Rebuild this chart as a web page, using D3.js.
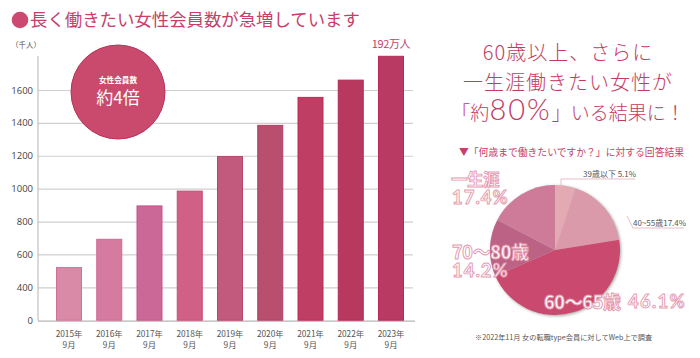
<!DOCTYPE html>
<html><head><meta charset="utf-8">
<script src="https://cdn.jsdelivr.net/npm/d3@7"></script>
<style>
html,body{margin:0;padding:0;background:#fff;}
svg{display:block;font-family:"Noto Sans CJK JP","Noto Sans",sans-serif;}
</style></head>
<body>
<svg id="c" width="700" height="358"></svg>
<script>
// ---- data ----
const years = ["2015年","2016年","2017年","2018年","2019年","2020年","2021年","2022年","2023年"];
const months = ["9月","9月","9月","9月","9月","9月","9月","9月","9月"];
const members = [520, 692, 895, 985, 1195, 1385, 1555, 1660, 1805];
const yTicks = [0, 400, 600, 800, 1000, 1200, 1400, 1600];
const pieLabels = ["39歳以下","40~55歳","60〜65歳","70〜80歳","一生涯"];
const pieValues = [5.1, 17.4, 46.1, 14.2, 17.4];

// ---- styles ----
const barColors = ["#d98aa7","#d67ba0","#cc6897","#d06086","#c15a7d","#b84f6f","#bf3e64","#b8395f","#b93a63"];
const barStroke = ["#d0709a","#cf6794","#c4548a","#c84a78","#b64470","#ae4064","#c0285a","#b82756","#b52a5a"];
const pieColors = ["#e3aab4","#da9aa9","#c94a6e","#bb6285","#cd7b98"];
const pink = "#c63e69";

const svg = d3.select("#c");
const defs = svg.append("defs");
const f = defs.append("filter").attr("id","sh").attr("x","-20%").attr("y","-20%").attr("width","140%").attr("height","140%");
f.append("feDropShadow").attr("dx",1).attr("dy",1).attr("stdDeviation",1.8).attr("flood-color","#555").attr("flood-opacity",0.55);

// ---- title ----
svg.append("circle").attr("cx",20).attr("cy",20).attr("r",8.3).attr("fill","#cc4a72");
svg.append("text").attr("x",30).attr("y",26.3).attr("font-size",17.4).attr("fill",pink)
  .text("長く働きたい女性会員数が急増しています");

// ---- bar chart ----
const x = d3.scaleBand().domain(years).range([56,404]).paddingInner(0.354).paddingOuter(0);
const y = d3.scaleLinear().domain([0,400,1600]).range([320.7,287.3,90]);

const yAxis = d3.axisLeft(y).tickValues(yTicks).tickSize(-375).tickPadding(5).tickFormat(d3.format("d"));
const gy = svg.append("g").attr("transform","translate(38,0)").call(yAxis);
gy.select(".domain").remove();
gy.selectAll(".tick line").attr("stroke","#cfcfcf").attr("stroke-width",1.2)
  .filter(d=>d===0).attr("stroke","#b5b5b5").attr("x2",377);
gy.selectAll(".tick text").attr("font-size",9.5).attr("fill","#444")
  .attr("font-family","'Open Sans','Noto Sans',sans-serif");
svg.append("line").attr("x1",38).attr("x2",38).attr("y1",56).attr("y2",y(0)).attr("stroke","#b5b5b5").attr("stroke-width",1);
svg.append("text").attr("x",11).attr("y",48).attr("font-size",7.5).attr("fill","#555").text("（千人）");

svg.append("g").selectAll("rect").data(members).join("rect")
  .attr("x",(d,i)=>x(years[i])+0.5).attr("width",x.bandwidth()-1)
  .attr("y",d=>y(d)).attr("height",d=>y(0)-y(d)-0.5)
  .attr("fill",(d,i)=>barColors[i]).attr("stroke",(d,i)=>barStroke[i]).attr("stroke-width",1);

const xl = svg.append("g").attr("font-size",8.3).attr("fill","#555").attr("text-anchor","middle");
xl.selectAll("text.yr").data(years).join("text").attr("class","yr")
  .attr("x",d=>x(d)+x.bandwidth()/2).attr("y",336.5).text(d=>d);
xl.selectAll("text.mo").data(months).join("text").attr("class","mo")
  .attr("x",(d,i)=>x(years[i])+x.bandwidth()/2).attr("y",347.5).text(d=>d);

svg.append("text").attr("x",x(years[8])+x.bandwidth()/2).attr("y",48).attr("text-anchor","middle")
  .attr("font-size",11).attr("letter-spacing",-0.4).attr("fill",pink).text("192万人");

// badge
svg.append("circle").attr("cx",118).attr("cy",92).attr("r",47).attr("fill","#ca4a6e").attr("stroke","#b8325a").attr("stroke-width",1);
svg.append("text").attr("x",118).attr("y",82.5).attr("text-anchor","middle").attr("font-size",7.6).attr("font-weight",700).attr("fill","#fff").text("女性会員数");
svg.append("text").attr("x",118).attr("y",104).attr("text-anchor","middle").attr("font-size",17).attr("fill","#fff").text("約4倍");

// ---- right headline ----
const hl = svg.append("g").attr("text-anchor","middle").attr("fill","#c33a63").attr("font-weight",300);
hl.append("text").attr("x",568).attr("y",60).attr("font-size",20).attr("letter-spacing",1.0).text("60歳以上、さらに");
hl.append("text").attr("x",568).attr("y",90).attr("font-size",20).attr("letter-spacing",1.0).text("一生涯働きたい女性が");
const l3 = hl.append("text").attr("x",568).attr("y",120).attr("font-size",19);
l3.append("tspan").text("「約");
l3.append("tspan").attr("font-size",29).attr("letter-spacing",2).attr("font-family","Lato,'Noto Sans',sans-serif").text("80%");
l3.append("tspan").text("」いる結果に！");

svg.append("text").attr("x",459).attr("y",156).attr("font-size",9.8).attr("fill",pink).text("▼「何歳まで働きたいですか？」に対する回答結果");

// ---- pie ----
const cx = 555, cy = 250, R = 65;
const pie = d3.pie().sort(null).value(d=>d)(pieValues);
const arc = d3.arc().innerRadius(0).outerRadius(R);
const gp = svg.append("g").attr("transform",`translate(${cx},${cy})`);
gp.append("circle").attr("r",R).attr("fill","#ccc").attr("filter","url(#sh)");
gp.selectAll("path").data(pie).join("path").attr("d",arc).attr("fill",(d,i)=>pieColors[i]);

// leader lines & small labels
const lc = "#e5a9ba";
svg.append("polyline").attr("points","561,185 561,179 635,179").attr("fill","none").attr("stroke",lc).attr("stroke-width",0.8);
svg.append("text").attr("x",583).attr("y",177).attr("font-size",8).attr("fill","#555")
  .text(`${pieLabels[0]} ${pieValues[0]}%`);
svg.append("polyline").attr("points","627,216 633,228 684,228").attr("fill","none").attr("stroke",lc).attr("stroke-width",0.8);
svg.append("text").attr("x",633).attr("y",226).attr("font-size",8).attr("fill","#555")
  .text(`${pieLabels[1]}${pieValues[1]}%`);

// big outlined labels
function outl(t, xx, yy, size, fam){
  return svg.append("text").attr("x",xx).attr("y",yy).attr("font-size",size).attr("font-weight",700)
    .attr("fill","#fff").attr("stroke","#e598b0").attr("stroke-width",0.9)
    .attr("font-family",fam || "'Noto Sans CJK JP','Noto Sans',sans-serif").text(t);
}
const numFam = "Lato,'Noto Sans',sans-serif";
outl(pieLabels[4], 451, 186, 16.5).attr("letter-spacing",-0.5);
outl(`${pieValues[4]}%`, 452, 203.5, 18.5, numFam).attr("letter-spacing",1);
outl(pieLabels[3], 452, 258.5, 18).attr("letter-spacing",-0.3);
outl(`${pieValues[3]}%`, 452, 277, 18.5, numFam).attr("letter-spacing",1);
outl(pieLabels[2], 544, 308.5, 18).attr("letter-spacing",-0.3);
outl(`${pieValues[2]}%`, 628, 308, 18.5, numFam).attr("letter-spacing",1.2);

svg.append("text").attr("x",475).attr("y",340).attr("font-size",7.2).attr("fill","#555")
  .text("※2022年11月  女の転職type会員に対してWeb上で調査");
</script>
</body></html>
